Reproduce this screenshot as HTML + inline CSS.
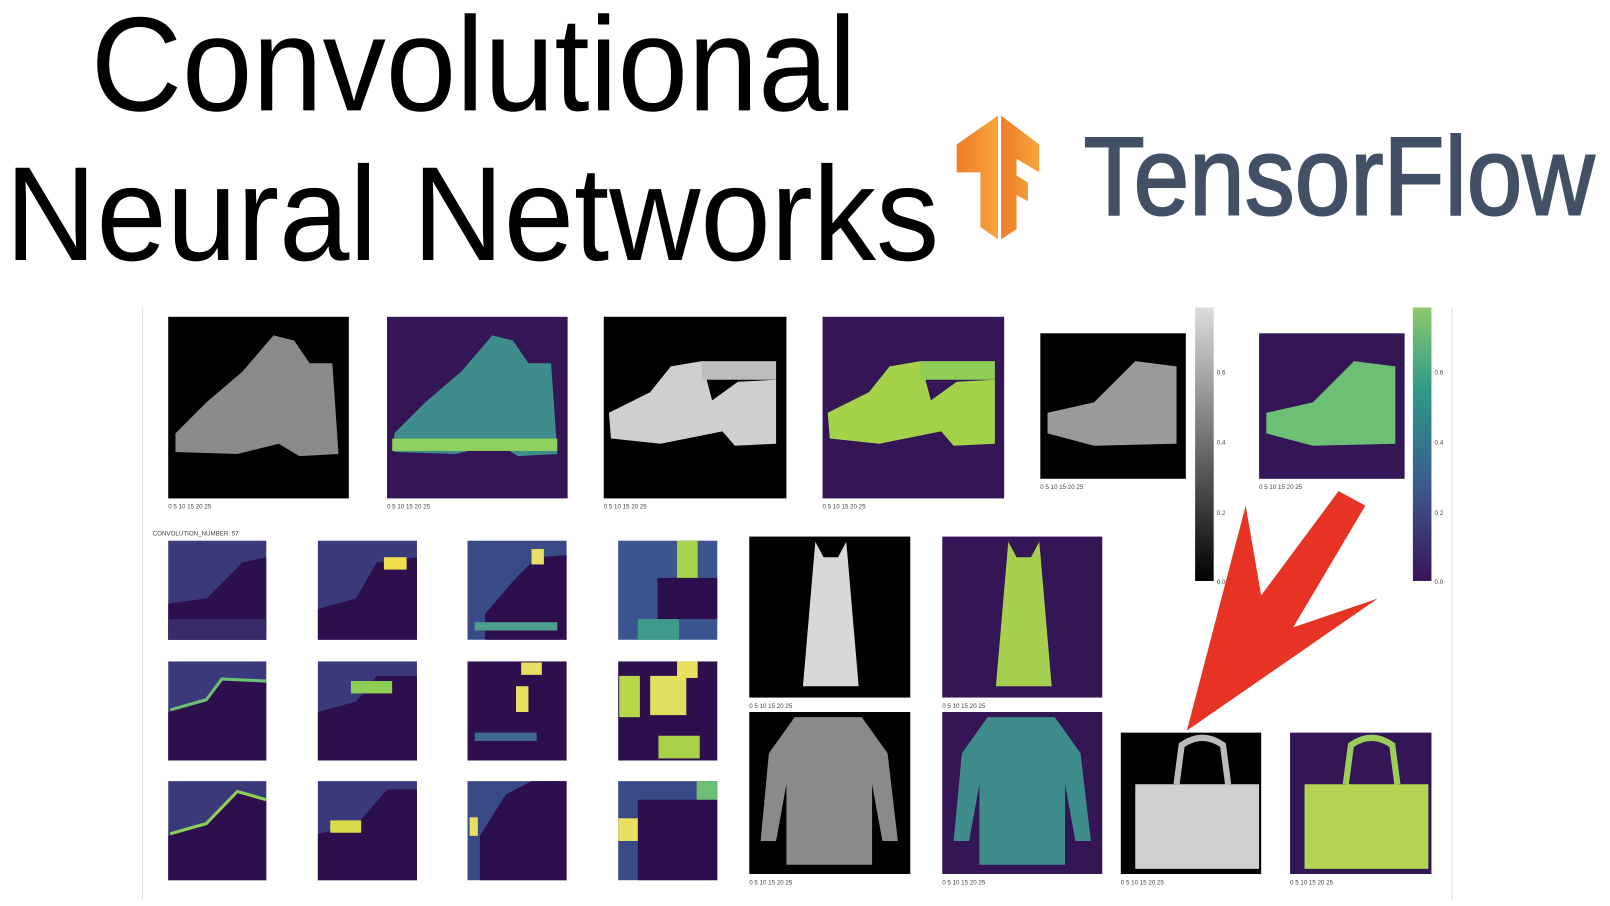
<!DOCTYPE html>
<html><head><meta charset="utf-8"><style>
html,body{margin:0;padding:0;background:#fff;width:1610px;height:906px;overflow:hidden}
svg{display:block}
text{font-family:"Liberation Sans",sans-serif}
.t{font-size:6px;fill:#444}
</style></head><body>
<svg width="1610" height="906" viewBox="0 0 1560 878" preserveAspectRatio="none" xmlns="http://www.w3.org/2000/svg">
<defs>
<linearGradient id="gb" x1="0" y1="1" x2="0" y2="0"><stop offset="0" stop-color="#000"/><stop offset="1" stop-color="#ddd"/></linearGradient>
<linearGradient id="gv" x1="0" y1="1" x2="0" y2="0"><stop offset="0" stop-color="#3b1458"/><stop offset="0.35" stop-color="#3b5b8c"/><stop offset="0.7" stop-color="#2f9a8a"/><stop offset="1" stop-color="#8cc96a"/></linearGradient>
<linearGradient id="org" x1="0" y1="0" x2="1" y2="0"><stop offset="0" stop-color="#ee7d2b"/><stop offset="1" stop-color="#f6a53a"/></linearGradient>
</defs>
<text x="88" y="107" font-size="130" textLength="742" lengthAdjust="spacingAndGlyphs" fill="#000">Convolutional</text>
<text x="5" y="252" font-size="130" textLength="905" lengthAdjust="spacingAndGlyphs" fill="#000">Neural Networks</text>
<polygon points="927,140 967,112 967,232 950,220 950,167 927,167" fill="url(#org)"/>
<polygon points="970,112 1007,140 1007,167 985,154 985,170 996,177 996,195 985,189 985,222 970,232" fill="url(#org)"/>
<text x="1050" y="208" font-size="108" textLength="495" lengthAdjust="spacingAndGlyphs" fill="#425066" stroke="#425066" stroke-width="2">TensorFlow</text>
<line x1="138" y1="298" x2="138" y2="872" stroke="#ddd"/>
<line x1="1407" y1="298" x2="1407" y2="872" stroke="#ddd"/>
<!-- top row -->
<rect x="163" y="307" width="175" height="176" fill="#000"/>
<polygon points="170,420 200,390 235,360 265,325 285,330 300,352 322,352 328,440 290,442 270,430 230,440 170,438" fill="#8a8a8a"/>
<rect x="375" y="307" width="175" height="176" fill="#341555"/>
<polygon points="382,420 412,390 447,360 477,325 497,330 512,352 534,352 540,440 502,442 482,430 442,440 382,438" fill="#3f8c8c"/>
<rect x="380" y="425" width="160" height="12" fill="#8fd060"/>
<rect x="585" y="307" width="177" height="176" fill="#000"/>
<polygon points="590,400 630,380 650,355 680,350 690,388 715,370 752,368 752,430 712,432 700,418 640,430 592,425" fill="#cfcfcf"/>
<rect x="680" y="350" width="72" height="18" fill="#bdbdbd"/>
<rect x="797" y="307" width="176" height="176" fill="#341555"/>
<polygon points="802,400 842,380 862,355 892,350 902,388 927,370 964,368 964,430 924,432 912,418 852,430 804,425" fill="#a4d24a"/>
<rect x="892" y="350" width="72" height="18" fill="#8fce55"/>
<rect x="1008" y="323" width="141" height="141" fill="#000"/>
<polygon points="1015,400 1060,390 1090,360 1100,350 1140,355 1140,430 1060,432 1015,420" fill="#9a9a9a"/>
<rect x="1158" y="298" width="18" height="265" fill="url(#gb)"/>
<rect x="1220" y="323" width="141" height="141" fill="#341555"/>
<polygon points="1227,400 1272,390 1302,360 1312,350 1352,355 1352,430 1272,432 1227,420" fill="#6cbf73"/>
<rect x="1369" y="298" width="18" height="265" fill="url(#gv)"/>
<g class="t">
<text x="1179" y="363">0.6</text><text x="1179" y="431">0.4</text><text x="1179" y="499">0.2</text><text x="1179" y="566">0.0</text>
<text x="1390" y="363">0.6</text><text x="1390" y="431">0.4</text><text x="1390" y="499">0.2</text><text x="1390" y="566">0.0</text>
<text x="163" y="493">0    5    10   15   20   25</text>
<text x="375" y="493">0    5    10   15   20   25</text>
<text x="585" y="493">0    5    10   15   20   25</text>
<text x="797" y="493">0    5    10   15   20   25</text>
<text x="1008" y="474">0  5  10 15 20 25</text>
<text x="1220" y="474">0  5  10 15 20 25</text>
<text x="148" y="519" font-family="Liberation Mono">CONVOLUTION_NUMBER: 57</text>
</g>
<!-- small grid -->
<g>
<rect x="163" y="524" width="95" height="96" fill="#3a3a7a"/><polygon points="163,585 200,580 235,545 258,540 258,620 163,620" fill="#2e0f4e"/><rect x="163" y="600" width="95" height="20" fill="#3a2a6a"/>
<rect x="308" y="524" width="96" height="96" fill="#3a3a7a"/><polygon points="308,590 345,580 365,545 404,540 404,620 308,620" fill="#2e0f4e"/><rect x="372" y="540" width="22" height="12" fill="#f0e050"/>
<rect x="453" y="524" width="96" height="96" fill="#3a4a86"/><polygon points="470,595 500,560 520,540 549,538 549,620 470,620" fill="#2e0f4e"/><rect x="460" y="603" width="80" height="8" fill="#4fa08a"/><rect x="515" y="532" width="12" height="15" fill="#e8e060"/>
<rect x="599" y="524" width="96" height="96" fill="#3a5590"/><rect x="637" y="560" width="58" height="40" fill="#2e0f4e"/><rect x="656" y="524" width="20" height="36" fill="#a8d24a"/><rect x="618" y="600" width="40" height="20" fill="#3f9a8a"/>
<rect x="163" y="641" width="95" height="96" fill="#3a3a7a"/><polygon points="163,690 200,680 215,660 258,660 258,737 163,737" fill="#2e0f4e"/><polyline points="165,688 200,678 215,658 258,660" stroke="#6cbf73" stroke-width="3" fill="none"/>
<rect x="308" y="641" width="96" height="96" fill="#3a3a7a"/><polygon points="308,690 345,680 365,655 404,655 404,737 308,737" fill="#2e0f4e"/><rect x="340" y="660" width="40" height="12" fill="#8fce55"/>
<rect x="453" y="641" width="96" height="96" fill="#2e0f4e"/><rect x="500" y="665" width="12" height="25" fill="#e8e060"/><rect x="505" y="642" width="20" height="12" fill="#e8e060"/><rect x="460" y="710" width="60" height="8" fill="#3f6a90"/>
<rect x="599" y="641" width="96" height="96" fill="#2e0f4e"/><rect x="630" y="655" width="35" height="38" fill="#e0e060"/><rect x="600" y="655" width="20" height="40" fill="#b8d84a"/><rect x="638" y="713" width="40" height="22" fill="#a8d24a"/><rect x="656" y="641" width="20" height="16" fill="#e8e060"/>
<rect x="163" y="757" width="95" height="96" fill="#3a3a7a"/><polygon points="163,810 200,800 230,768 258,775 258,853 163,853" fill="#2e0f4e"/><polyline points="165,808 200,798 230,767 258,775" stroke="#8fce55" stroke-width="3" fill="none"/>
<rect x="308" y="757" width="96" height="96" fill="#3a3a7a"/><polygon points="308,808 345,800 375,765 404,765 404,853 308,853" fill="#2e0f4e"/><rect x="320" y="795" width="30" height="12" fill="#d8dc4a"/>
<rect x="453" y="757" width="96" height="96" fill="#3a4a86"/><polygon points="465,853 465,810 490,770 515,757 549,757 549,853" fill="#2e0f4e"/><rect x="455" y="792" width="8" height="18" fill="#e8e060"/>
<rect x="599" y="757" width="96" height="96" fill="#3a4a86"/><rect x="618" y="775" width="77" height="78" fill="#2e0f4e"/><rect x="599" y="793" width="19" height="22" fill="#e8e060"/><rect x="675" y="757" width="20" height="18" fill="#6cbf73"/>
</g>
<!-- dress -->
<rect x="726" y="520" width="156" height="156" fill="#000"/>
<polygon points="790,525 798,540 812,540 820,525 822,548 832,665 778,665 788,548" fill="#d8d8d8"/>
<rect x="913" y="520" width="155" height="156" fill="#341555"/>
<polygon points="977,525 985,540 999,540 1007,525 1009,548 1019,665 965,665 975,548" fill="#a8d050"/>
<!-- shirt -->
<rect x="726" y="690" width="156" height="157" fill="#000"/>
<polygon points="770,695 835,695 860,730 870,815 855,815 845,760 845,838 762,838 762,760 752,815 737,815 745,730" fill="#8a8a8a"/>
<rect x="913" y="690" width="155" height="157" fill="#341555"/>
<polygon points="957,695 1022,695 1047,730 1057,815 1042,815 1032,760 1032,838 949,838 949,760 939,815 924,815 932,730" fill="#3f8c8c"/>
<!-- bag -->
<rect x="1086" y="710" width="136" height="137" fill="#000"/>
<path d="M1140,760 L1145,722 Q1165,708 1185,722 L1190,760" stroke="#bbb" stroke-width="6" fill="none"/>
<rect x="1100" y="760" width="120" height="82" fill="#d0d0d0"/>
<rect x="1250" y="710" width="137" height="137" fill="#341555"/>
<path d="M1304,760 L1309,722 Q1329,708 1349,722 L1354,760" stroke="#9ccc5a" stroke-width="6" fill="none"/>
<rect x="1264" y="760" width="120" height="82" fill="#b4d454"/>
<g class="t">
<text x="726" y="686">0    5    10   15   20   25</text>
<text x="913" y="686">0    5    10   15   20   25</text>
<text x="726" y="857">0    5    10   15   20   25</text>
<text x="913" y="857">0    5    10   15   20   25</text>
<text x="1086" y="857">0  5  10  15  20  25</text>
<text x="1250" y="857">0  5  10  15  20  25</text>
</g>
<!-- red arrow -->
<polygon points="1150,708 1207,490 1222,577 1297,476 1323,490 1253,608 1335,580" fill="#e63323"/>
</svg>
</body></html>
